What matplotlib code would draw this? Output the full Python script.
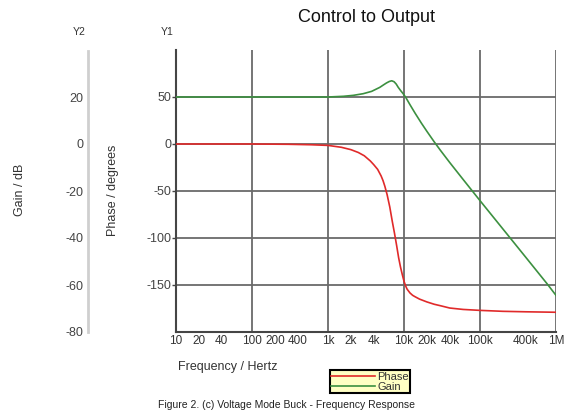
import matplotlib
matplotlib.use("Agg")
import matplotlib.pyplot as plt
from matplotlib.ticker import FixedLocator, FixedFormatter

plt.rcParams['font.family'] = ['Liberation Sans', 'DejaVu Sans']
plt.rcParams['axes.unicode_minus'] = False

# phase response (degrees)
phase_freq = [10, 100, 300, 600, 1000, 1500, 2000, 2500, 3000, 3600, 4000,
              4500, 5000, 5300, 5600, 6000, 6500, 7000, 7500, 8000, 8500,
              9000, 9500, 10000, 10500, 11000, 12000, 13000, 14000, 16000,
              20000, 25000, 30000, 40000, 60000, 100000, 200000, 400000,
              1000000]
phase_deg = [0, 0, -0.3, -0.8, -1.5, -3.5, -6, -9, -12.5, -18, -22,
             -27, -34, -39, -45, -54, -67, -82, -95, -108, -121,
             -131, -139, -146, -151, -154.5, -158.5, -161, -162.5, -165,
             -168, -170.5, -172, -174.5, -176, -177, -178, -178.5,
             -179]

# gain response (dB)
gain_freq = [10, 100, 1000, 1600, 2150, 2900, 3750, 4800, 5400, 5900, 6400,
             6900, 7400, 7900, 8400, 9100, 9800, 10600, 12000, 14000, 17000,
             20000, 25000, 30000, 40000, 60000, 100000, 233000, 400000,
             760000, 1000000]
gain_db = [20, 20, 20, 20.3, 20.7, 21.4, 22.4, 24.1, 25.2, 26.0, 26.6,
           26.9, 26.5, 25.5, 24.1, 22.6, 21.3, 19.7, 16.7, 13.1, 8.8,
           5.4, 0.9, -2.6, -7.9, -15.1, -24.1, -38.8, -48.2,
           -59.4, -64.4]

decade_ticks = [10, 100, 1000, 10000, 100000, 1000000]
decade_labels = ['10', '100', '1k', '10k', '100k', '1M']
minor_ticks = [20, 40, 200, 400, 2000, 4000, 20000, 40000, 400000]
minor_labels = ['20', '40', '200', '400', '2k', '4k', '20k', '40k', '400k']
phase_ticks = [50, 0, -50, -100, -150]
gain_ticks = [20, 0, -20, -40, -60, -80]

W, H = 568, 412
fig = plt.figure(figsize=(W / 100, H / 100), dpi=100)
ax = fig.add_axes([176 / W, 1 - 332 / H, 380 / W, 282 / H])

dark = '#454545'
ax.set_xscale('log')
ax.set_xlim(10, 1e6)
ax.set_ylim(-200, 100)

ax.xaxis.set_major_locator(FixedLocator(decade_ticks))
ax.xaxis.set_major_formatter(FixedFormatter(decade_labels))
ax.xaxis.set_minor_locator(FixedLocator(minor_ticks))
ax.xaxis.set_minor_formatter(FixedFormatter(minor_labels))
ax.tick_params(axis='x', which='both', length=0, pad=2.5, labelsize=8.5,
               labelcolor='#333333')
ax.set_yticks(phase_ticks)
ax.tick_params(axis='y', length=3, width=1, color=dark, pad=0.5,
               labelsize=9, labelcolor='#444444')

ax.grid(True, which='major', color='#6a6a6a', linewidth=1.3)
ax.grid(False, which='minor')
ax.set_axisbelow(True)
for side in ['top', 'right']:
    ax.spines[side].set_visible(False)
for side in ['left', 'bottom']:
    ax.spines[side].set_color(dark)
    ax.spines[side].set_linewidth(1.5)

ph_line, = ax.plot(phase_freq, phase_deg, color='#e02a2a', lw=1.2,
                   label='Phase', zorder=3)

# gain on a twin axis whose scale is shown on the far-left Y2 spine
axg = ax.twinx()
axg.set_ylim(-80, 40)
for side in ['top', 'right', 'bottom']:
    axg.spines[side].set_visible(False)
axg.spines['left'].set_visible(True)
axg.spines['left'].set_position(('outward', 88 * 0.72))
axg.spines['left'].set_color('#cfcfcf')
axg.spines['left'].set_linewidth(2)
axg.spines['left'].set_bounds(-80, 39.5)
axg.yaxis.set_ticks_position('left')
axg.yaxis.set_label_position('left')
axg.set_yticks(gain_ticks)
axg.tick_params(axis='y', length=0, pad=3.5, labelsize=9,
                labelcolor='#444444')
g_line, = axg.plot(gain_freq, gain_db, color='#3c9040', lw=1.2,
                   label='Gain', zorder=3)

fig.text(366 / W, 1 - 17 / H, 'Control to Output', ha='center',
         va='center', fontsize=13, color='#111111')
fig.text(79 / W, 1 - 32 / H, 'Y2', ha='center', va='center', fontsize=7.5,
         color='#333333')
fig.text(167 / W, 1 - 32 / H, 'Y1', ha='center', va='center', fontsize=7.5,
         color='#333333')
fig.text(20 / W, 1 - 190 / H, 'Gain / dB', ha='center', va='center',
         rotation=90, fontsize=9, color='#333333')
fig.text(113 / W, 1 - 190 / H, 'Phase / degrees', ha='center', va='center',
         rotation=90, fontsize=9, color='#333333')
fig.text(178 / W, 1 - 367 / H, 'Frequency / Hertz', ha='left', va='center',
         fontsize=9, color='#333333')
fig.text(287 / W, 1 - 405 / H, 'Figure 2. (c) Voltage Mode Buck - Frequency Response',
         ha='center', va='center', fontsize=7.5, color='#222222')

leg = fig.legend([ph_line, g_line], ['Phase', 'Gain'],
                 loc='center', bbox_to_anchor=(370 / W, 1 - 381.5 / H),
                 fontsize=8, handlelength=4.0, handletextpad=0.2,
                 labelspacing=0.0, borderpad=0.12, borderaxespad=0,
                 fancybox=False, framealpha=1)
leg.get_frame().set_facecolor('#ffffc4')
leg.get_frame().set_edgecolor('black')
leg.get_frame().set_linewidth(1.5)
for t in leg.get_texts():
    t.set_color('#333333')

fig.savefig('out.png', dpi=100)
